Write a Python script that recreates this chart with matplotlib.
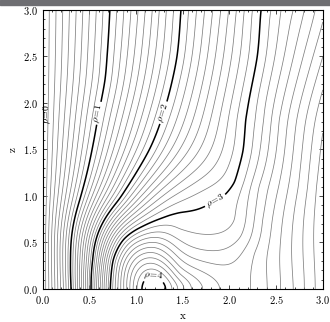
import numpy as np
import matplotlib
matplotlib.use("Agg")
import matplotlib.pyplot as plt
from matplotlib.patches import Rectangle
from matplotlib.ticker import MultipleLocator

plt.rcParams['font.family'] = 'serif'
plt.rcParams['font.serif'] = ['cmr10', 'DejaVu Serif']
plt.rcParams['mathtext.fontset'] = 'cm'
plt.rcParams['axes.formatter.use_mathtext'] = True

# points: x, z, rho
pt_x = [0.36, 0.72, 1.10, 1.48, 1.91, 2.335, 2.45, 2.545, 2.69, 2.80, 2.92,
        0.69, 0.67, 0.60, 0.53, 0.40, 0.30, 0.31,
        1.44, 1.39, 1.28, 1.14, 0.82, 0.54, 0.52,
        2.30, 2.21, 2.17, 2.15, 2.07, 1.92, 1.78, 1.46, 1.36, 1.07, 0.86, 0.75, 0.72,
        1.05, 1.33, 1.19, 1.19, 1.12, 1.26,
        1.39, 1.46, 1.52, 1.60, 1.73, 1.91, 0.88, 1.20,
        1.46, 1.46, 1.46, 1.46, 1.46, 1.46,
        2.10, 2.07, 2.13, 2.17, 2.26, 2.35,
        2.225, 2.41, 2.545, 2.69, 2.80, 2.92,
        2.13, 2.23, 2.31, 2.42, 2.53, 2.63, 2.74, 2.84, 2.93,
        2.28, 2.37, 2.45, 2.53, 2.63, 2.72, 2.82, 2.92,
        3.0, 3.0]
pt_z = [3.0, 3.0, 3.0, 3.0, 3.0, 3.0, 3.0, 3.0, 3.0, 3.0, 3.0,
        2.5, 2.25, 1.89, 1.5, 0.96, 0.31, 0.0,
        2.5, 2.25, 1.85, 1.49, 0.96, 0.31, 0.0,
        2.5, 2.03, 1.82, 1.49, 1.14, 0.99, 0.93, 0.83, 0.80, 0.67, 0.53, 0.31, 0.0,
        0.0, 0.0, 0.15, 0.0, 0.08, 0.08,
        0.0, 0.0, 0.0, 0.0, 0.0, 0.0, 0.0, 0.45,
        0.63, 0.53, 0.42, 0.33, 0.24, 0.15,
        0.0, 0.74, 0.56, 0.44, 0.39, 0.74,
        0.0, 0.0, 0.0, 0.0, 0.0, 0.0,
        1.1, 1.1, 1.1, 1.1, 1.1, 1.1, 1.1, 1.1, 1.1,
        1.82, 1.82, 1.82, 1.82, 1.82, 1.82, 1.82, 1.82,
        3.0, 0.0]
pt_rho = [0.5, 1.0, 1.5, 2.0, 2.5, 3.0, 3.1, 3.2, 3.3, 3.4, 3.5,
          1, 1, 1, 1, 1, 1, 1,
          2, 2, 2, 2, 2, 2, 2,
          3, 3, 3, 3, 3, 3, 3, 3, 3, 3, 3, 3, 3,
          4.0, 4.0, 4.0, 4.06, 4.04, 4.04,
          3.9, 3.8, 3.7, 3.6, 3.5, 3.4, 3.5, 3.5,
          3.1, 3.2, 3.3, 3.4, 3.5, 3.6,
          3.35, 3.1, 3.2, 3.3, 3.4, 3.4,
          3.4, 3.5, 3.6, 3.7, 3.8, 3.9,
          3.1, 3.2, 3.3, 3.4, 3.5, 3.6, 3.7, 3.8, 3.9,
          3.1, 3.2, 3.3, 3.4, 3.5, 3.6, 3.7, 3.8,
          3.57, 3.97]

thick_levels = [1, 2, 3, 4]
label_pos = [(0.60, 1.89), (1.28, 1.90), (1.85, 0.95), (1.19, 0.15)]

# rho is odd in x and even in z: mirror the read points
px = np.array(pt_x)
pz = np.array(pt_z)
pv = np.array(pt_rho, dtype=float)
up = pz > 0
px = np.concatenate([px, px[up]])
pv = np.concatenate([pv, pv[up]])
pz = np.concatenate([pz, -pz[up]])
px, pz, pv = np.concatenate([px, -px]), np.concatenate([pz, pz]), np.concatenate([pv, -pv])


def tps_kernel(r):
    with np.errstate(divide='ignore', invalid='ignore'):
        k = r ** 2 * np.log(r)
    return np.nan_to_num(k)


# smoothing thin-plate spline through the read points
n = len(px)
d = np.hypot(px[:, None] - px[None, :], pz[:, None] - pz[None, :])
M = np.zeros((n + 3, n + 3))
M[:n, :n] = tps_kernel(d) + 0.02 * np.eye(n)
P = np.column_stack([np.ones(n), px, pz])
M[:n, n:] = P
M[n:, :n] = P.T
sol = np.linalg.solve(M, np.concatenate([pv, np.zeros(3)]))
w, a = sol[:n], sol[n:]

xs = np.linspace(-0.02, 3.0, 400)
zs = np.linspace(0.0, 3.0, 400)
X, Z = np.meshgrid(xs, zs)
R = a[0] + a[1] * X + a[2] * Z
for i in range(n):
    R += w[i] * tps_kernel(np.hypot(X - px[i], Z - pz[i]))

fig = plt.figure(figsize=(3.3, 3.22), dpi=100)
ax = fig.add_axes([0.129, 0.1025, 0.849, 0.8665])

thin = [k / 10 for k in range(1, 41) if k % 10]
ax.contour(X, Z, R, levels=thin, colors='#808080', linewidths=0.55)
ax.contour(X, Z, R, levels=[0], colors='k', linewidths=1.2)
cs = ax.contour(X, Z, R, levels=thick_levels, colors='k', linewidths=1.1)
ax.clabel(cs, fmt={lv: r'$\rho\!=\!%d$' % lv for lv in thick_levels},
          manual=label_pos, inline=True, inline_spacing=2, fontsize=7)
ax.text(0.055, 1.88, r'$\rho\!=\!0$', rotation=90, fontsize=7,
        ha='center', va='center')

ax.set_xlim(0, 3)
ax.set_ylim(0, 3)
ax.xaxis.set_major_locator(MultipleLocator(0.5))
ax.yaxis.set_major_locator(MultipleLocator(0.5))
ax.xaxis.set_minor_locator(MultipleLocator(0.1))
ax.yaxis.set_minor_locator(MultipleLocator(0.1))
ax.set_xlabel('x', fontsize=8)
ax.set_ylabel('z', fontsize=8)
ax.tick_params(which='both', direction='in', top=True, right=True, width=0.5)
ax.tick_params(which='major', labelsize=7.5, length=3)
ax.tick_params(which='minor', length=1.5)

fig.patches.append(Rectangle((0, 1 - 5 / 322), 1, 5 / 322, transform=fig.transFigure,
                             color='#6e6e72', zorder=10))
fig.savefig('out.png', dpi=100)
